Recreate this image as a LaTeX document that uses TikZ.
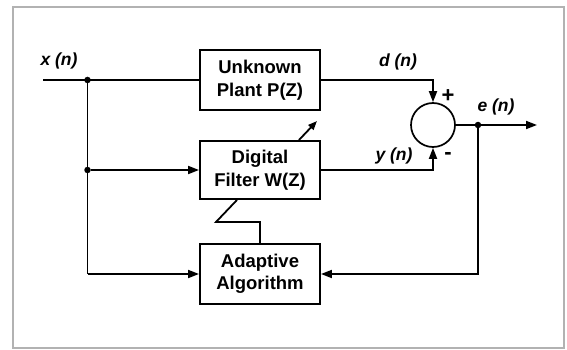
\documentclass[tikz,border=0pt]{standalone}
\usepackage{fontspec}
\setmainfont{Liberation Sans}
\usepackage{tikz}
\usetikzlibrary{positioning, arrows.meta, calc}

\begin{document}
\begin{tikzpicture}[x=1pt, y=-1pt,
  font=\fontsize{18.5}{22.5}\selectfont\bfseries,
  blk/.style={rectangle, draw, line width=1.9pt, minimum width=120pt,
             minimum height=60pt, inner sep=2pt, align=center},
  sumnode/.style={circle, draw, line width=1.7pt, minimum size=44pt, inner sep=0pt},
  dot/.style={circle, fill, inner sep=0pt, minimum size=6.5pt},
  sig/.style={font=\fontsize{17.5}{19}\selectfont\bfseries\itshape},
  sgn/.style={font=\fontsize{22}{22}\selectfont\bfseries},
  wire/.style={line width=1.8pt},
  arr/.style={wire, -{Triangle[length=11pt, width=8pt]}},
]

% ---- frame ----
\useasboundingbox (0,0) rectangle (567,350);
\draw[black!30, line width=1.6pt] (13,7) rectangle (564,348);

% ---- blocks ----
\node[blk] (plant) at (260,80)  {Unknown\\Plant P(Z)};
\node[blk, minimum height=58pt] (filter) at (260,170) {Digital\\Filter W(Z)};
\node[blk] (adapt) at (260,274) {Adaptive\\Algorithm};
\node[sumnode] (sum) at (433,125) {};

% ---- junctions ----
\coordinate (xin) at (43,80);
\node[dot] (ja) at (87.5,80) {};
\node[dot] (jb) at (87.5,170) {};
\node[dot] (je) at (478,125) {};
\coordinate (eout) at (537,125);

% ---- signal labels ----
\node[sig] (xlab) at (59,61)  {x (n)};
\node[sig] (dlab) at (398,62) {d (n)};
\node[sig] (ylab) at (394,156) {y (n)};
\node[sig] (elab) at (496,107) {e (n)};
\node[sgn] (plus)  at (448,96)  {+};
\node[sgn] (minus) at (448,156) {-};

% ---- connections ----
\draw[wire] (xin) -- (plant.west);
\draw[wire] (ja) -- (ja |- adapt.west);
\draw[arr] (jb) -- (filter.west);
\draw[arr] (ja |- adapt.west) -- (adapt.west);
\draw[arr] (plant.east) -| (sum.north);
\draw[arr] (filter.east) -| (sum.south);
\draw[arr] (sum.east) -- (eout);
\draw[arr] (je) |- (adapt.east);

% ---- adaptation ----
\coordinate (adj1) at ($(filter.north east)+(-22,0)$);
\coordinate (adj2) at ($(filter.north east)+(-4,-19)$);
\draw[wire, -{Triangle[length=9pt, width=7pt]}] (adj1) -- (adj2);
\coordinate (zz1) at ($(filter.south)+(-23,0)$);
\coordinate (zz2) at (216,222);
\draw[wire] (zz1) -- (zz2) -- (zz2 -| adapt.north) -- (adapt.north);

\end{tikzpicture}
\end{document}
